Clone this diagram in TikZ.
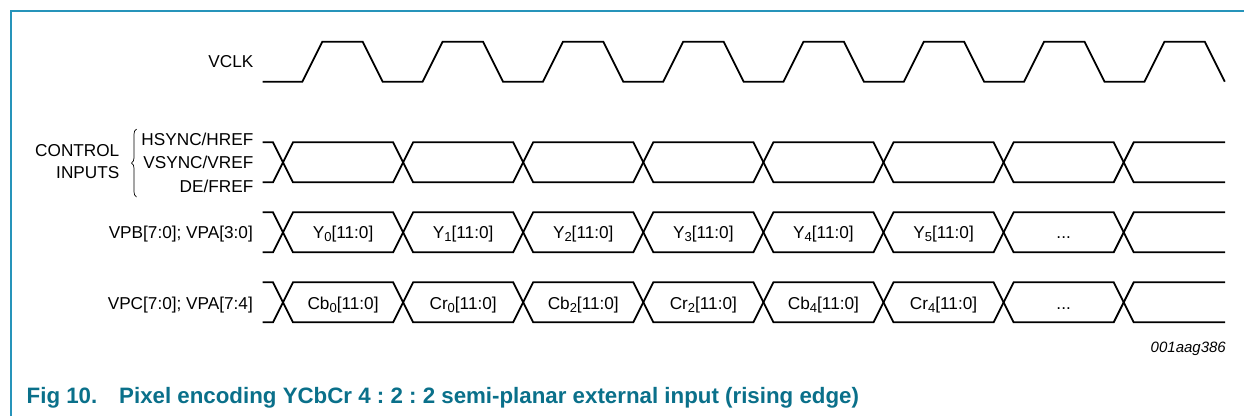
\documentclass[tikz,border=0pt]{standalone}
\usepackage{fontspec}
\setmainfont{Liberation Sans}
\usetikzlibrary{decorations.pathreplacing}
\definecolor{frameblue}{RGB}{38,148,186}
\definecolor{captealc}{RGB}{10,112,138}
\newcommand\mysub[1]{\raisebox{-0.3ex}{\fontsize{13}{15}\selectfont #1}}
\frenchspacing
\begin{document}
\begin{tikzpicture}[x=1pt,y=-1pt,
  wave/.style={line width=1.8pt, line join=miter},
  lbl/.style={inner sep=0pt, font=\fontsize{17.2}{20}\selectfont},
  frameline/.style={draw=frameblue, line width=1.2pt},
  capt/.style={inner sep=0pt, anchor=base west, text=captealc, font=\bfseries\fontsize{22.3}{26}\selectfont},
  bracestyle/.style={decorate, decoration={brace, amplitude=5pt}, line width=0.7pt},
  ]
\useasboundingbox (0,0) rectangle (1244,416);
% frame
\draw[frameline] (11,416) -- (11,11) -- (1244,11);

% signal labels
\node[lbl, anchor=base east] (vclk) at (253.5,67.5) {VCLK};
\node[lbl, anchor=base east] (hs) at (253.5,145.5) {HSYNC/HREF};
\node[lbl, anchor=base east] (vs) at (253.5,168) {VSYNC/VREF};
\node[lbl, anchor=base east] (de) at (253.5,192.5) {DE/FREF};
\node[lbl, anchor=base east] (ctl) at (119.5,156.5) {CONTROL};
\node[lbl, anchor=base east] (inp) at (119.5,178.5) {INPUTS};
\coordinate (brtop) at (136.5,129);
\coordinate (brbot) at (136.5,197);
\draw[bracestyle] (brbot) -- (brtop);
\node[lbl, anchor=base east] (vpb) at (253,238.5) {VPB[7:0]; VPA[3:0]};
\node[lbl, anchor=base east] (vpc) at (253,309.5) {VPC[7:0]; VPA[7:4]};

% VCLK
\draw[wave] (262.7,81.7)
  \foreach \k in {0,...,7}{
    -- ({302.3+120.3*\k},81.7) -- ({322.3+120.3*\k},41.7)
    -- ({362.7+120.3*\k},41.7) -- ({382.7+120.3*\k},81.7)
  };

% bus rows: top y / bottom y
\foreach \T/\B in {142.3/182.3, 212.3/252.3, 282.3/322.3}{
  \draw[wave] (262.7,\T)
    \foreach \k in {0,2,4,6}{
      -- ({283+120.1*\k-10},\T) -- ({283+120.1*\k+10},\B)
      -- ({283+120.1*(\k+1)-10},\B) -- ({283+120.1*(\k+1)+10},\T)
    } -- (1225,\T);
  \draw[wave] (262.7,\B)
    \foreach \k in {0,2,4,6}{
      -- ({283+120.1*\k-10},\B) -- ({283+120.1*\k+10},\T)
      -- ({283+120.1*(\k+1)-10},\T) -- ({283+120.1*(\k+1)+10},\B)
    } -- (1225,\B);
}

% cell contents
\foreach \k/\txt in {0/{Y\mysub{0}[11:0]}, 1/{Y\mysub{1}[11:0]}, 2/{Y\mysub{2}[11:0]},
                     3/{Y\mysub{3}[11:0]}, 4/{Y\mysub{4}[11:0]}, 5/{Y\mysub{5}[11:0]}, 6/{...}}{
  \node[lbl, anchor=base] (y\k) at ({343.05+120.1*\k},238.5) {\txt};
}
\foreach \k/\txt in {0/{Cb\mysub{0}[11:0]}, 1/{Cr\mysub{0}[11:0]}, 2/{Cb\mysub{2}[11:0]},
                     3/{Cr\mysub{2}[11:0]}, 4/{Cb\mysub{4}[11:0]}, 5/{Cr\mysub{4}[11:0]}, 6/{...}}{
  \node[lbl, anchor=base] (c\k) at ({343.05+120.1*\k},309.5) {\txt};
}

% figure id
\node[inner sep=0pt, anchor=base east, font=\itshape\fontsize{15}{18}\selectfont] (figid) at (1226,352) {001aag386};

% caption
\node[capt] (fignum) at (26.5,403) {Fig 10.};
\node[capt] (figtitle) at (119,403) {Pixel encoding YCbCr 4 : 2 : 2 semi-planar external input (rising edge)};
\end{tikzpicture}
\end{document}
